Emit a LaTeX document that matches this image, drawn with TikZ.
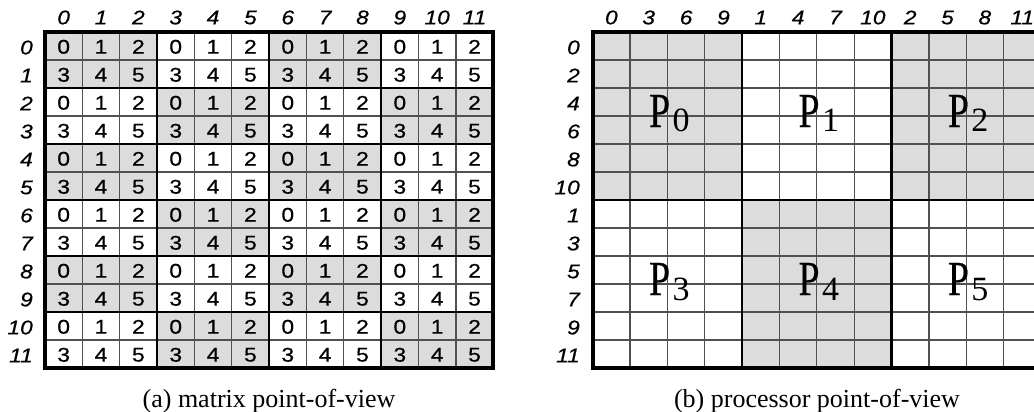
\documentclass[tikz,border=0pt]{standalone}
\usepackage{fontspec}
\setmainfont{Liberation Serif}
\newfontfamily\cellfont[FakeStretch=1.15, FakeBold=0.6]{Liberation Sans}
\newfontfamily\procfont[FakeStretch=0.77, FakeBold=0.4]{Liberation Serif}
\definecolor{cellgray}{HTML}{DCDCDC}
\definecolor{thingrid}{HTML}{505050}
\tikzset{
  cellnum/.style={inner sep=0pt, font=\cellfont\fontsize{19.8}{19.8}\selectfont},
  idxlabel/.style={inner sep=0pt, font=\cellfont\itshape\fontsize{19.8}{19.8}\selectfont},
  proclabel/.style={inner sep=0pt, anchor=base},
  caption/.style={inner sep=0pt, anchor=base, font=\rmfamily\fontsize{26}{26}\selectfont},
  thinline/.style={draw=thingrid, line width=1.3pt},
  blockline/.style={draw=black, line width=2.4pt},
  frameline/.style={draw=black, line width=4pt},
}
% processor name: condensed P with a large, slightly lowered index
\newcommand{\proc}[1]{{\procfont\fontsize{49}{49}\selectfont P}\kern2.5pt\raisebox{-5pt}{\rmfamily\fontsize{34}{34}\selectfont #1}}
\begin{document}
\begin{tikzpicture}[x=1pt, y=-1pt]
  \useasboundingbox (0,0) rectangle (1034,412);
  \clip (0,0) rectangle (1034,412);
  \def\cw{37.35}
  \def\rh{28}

  % ---------- (a) matrix point-of-view ----------
  \begin{scope}[shift={(45,32)}]
    % shaded 2x3 blocks owned by the same processor
    \foreach \br in {0,...,5}
      \foreach \bc in {0,...,3} {
        \pgfmathtruncatemacro\blkparity{mod(\br+\bc,2)}
        \ifnum\blkparity=0
          \fill[cellgray] (3*\bc*\cw, 2*\br*\rh) rectangle ++(3*\cw, 2*\rh);
        \fi
      }
    % thin cell lines
    \foreach \i in {1,...,11} {
      \draw[thinline] (\i*\cw, 0) -- (\i*\cw, 12*\rh);
      \draw[thinline] (0, \i*\rh) -- (12*\cw, \i*\rh);
    }
    % block boundaries
    \foreach \i in {3,6,9}
      \draw[blockline] (\i*\cw, 0) -- (\i*\cw, 12*\rh);
    \foreach \i in {2,4,6,8,10}
      \draw[blockline] (0, \i*\rh) -- (12*\cw, \i*\rh);
    \draw[frameline] (0,0) rectangle (12*\cw, 12*\rh);
    % cell entries: processor number
    \foreach \r in {0,...,11}
      \foreach \c in {0,...,11} {
        \pgfmathtruncatemacro\v{mod(\c,3)+3*mod(\r,2)}
        \node[cellnum] (a-\r-\c) at ({(\c+0.5)*\cw}, {(\r+0.5)*\rh+0.8}) {\v};
      }
    % indices
    \foreach \c in {0,...,11}
      \node[idxlabel] (acol-\c) at ({(\c+0.5)*\cw}, -14.5) {\c};
    \foreach \r in {0,...,11}
      \node[idxlabel, anchor=east] (arow-\r) at (-12, {(\r+0.5)*\rh+1.5}) {\r};
  \end{scope}
  \node[caption] (capa) at (269, 407) {(a) matrix point-of-view};

  % ---------- (b) processor point-of-view ----------
  \begin{scope}[shift={(592.7,32)}]
    \fill[cellgray] (0,0) rectangle (4*\cw, 6*\rh);
    \fill[cellgray] (8*\cw,0) rectangle (12*\cw, 6*\rh);
    \fill[cellgray] (4*\cw,6*\rh) rectangle (8*\cw, 12*\rh);
    \foreach \i in {1,...,11} {
      \draw[thinline] (\i*\cw, 0) -- (\i*\cw, 12*\rh);
      \draw[thinline] (0, \i*\rh) -- (12*\cw, \i*\rh);
    }
    \foreach \i in {4,8}
      \draw[blockline] (\i*\cw, 0) -- (\i*\cw, 12*\rh);
    \draw[blockline] (0, 6*\rh) -- (12*\cw, 6*\rh);
    \draw[frameline] (0,0) rectangle (12*\cw, 12*\rh);
    % column and row indices grouped by owner
    \foreach \lab [count=\c from 0] in {0,3,6,9,1,4,7,10,2,5,8,11}
      \node[idxlabel] (bcol-\c) at ({(\c+0.5)*\cw}, -14.5) {\lab};
    \foreach \lab [count=\r from 0] in {0,2,4,6,8,10,1,3,5,7,9,11}
      \node[idxlabel, anchor=east] (brow-\r) at (-12.7, {(\r+0.5)*\rh+1.5}) {\lab};
    % processor names
    \foreach \p/\bx/\by in {0/0/0, 1/1/0, 2/2/0, 3/0/1, 4/1/1, 5/2/1}
      \node[proclabel] (p\p) at ({(4*\bx+2)*\cw+2}, {(6*\by)*\rh+95}) {\proc{\p}};
  \end{scope}
  \node[caption] (capb) at (817, 407) {(b) processor point-of-view};
\end{tikzpicture}
\end{document}
